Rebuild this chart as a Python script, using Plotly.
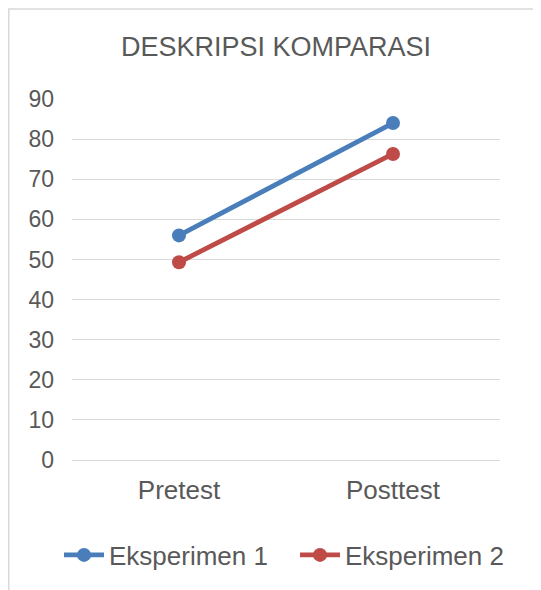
import plotly.graph_objects as go

categories = ["Pretest", "Posttest"]
series_names = ["Eksperimen 1", "Eksperimen 2"]
eksperimen_1 = [56.0, 84.0]
eksperimen_2 = [49.3, 76.3]
y_ticks = [0, 10, 20, 30, 40, 50, 60, 70, 80, 90]

colors = ["#4A7EBB", "#BE4B48"]
text_color = "#595959"
grid_color = "#D9D9D9"
font_family = "Liberation Sans, Arial, sans-serif"

fig = go.Figure()
for name, vals, c in zip(series_names, [eksperimen_1, eksperimen_2], colors):
    fig.add_trace(go.Scatter(
        x=categories, y=vals, name=name, mode="lines+markers",
        line=dict(color=c, width=4.8),
        marker=dict(color=c, size=14),
    ))

# page body has an 8px margin; figure drawn at (8, 8)
W, H = 533, 582
L, R, T, B = 64, 41, 91, 130
pw, ph = W - L - R, H - T - B

fig.update_layout(
    width=W, height=H,
    margin=dict(l=L, r=R, t=T, b=B),
    paper_bgcolor="white", plot_bgcolor="white",
    font=dict(family=font_family, color=text_color, size=26),
    title=dict(text="DESKRIPSI KOMPARASI", x=268 / W, xanchor="center",
               y=1 - 39 / H, yanchor="middle", yref="container",
               font=dict(size=27, color=text_color, family=font_family)),
    showlegend=True,
    legend=dict(orientation="h", x=(51 - L) / pw, xanchor="left",
                y=-(547 - (T + ph)) / ph, yanchor="middle",
                font=dict(size=26, color=text_color), itemwidth=40,
                entrywidth=181, tracegroupgap=0),
    xaxis=dict(type="category", range=[-0.5, 1.5], showgrid=False,
               showline=False, zeroline=False, ticks="",
               ticklabelstandoff=12, tickfont=dict(size=26)),
    yaxis=dict(range=[0, 90], tickvals=y_ticks, showgrid=True,
               gridcolor=grid_color, gridwidth=1, zeroline=True,
               zerolinecolor=grid_color, zerolinewidth=1, showline=False,
               ticks="", ticklabelstandoff=17, tickfont=dict(size=23)),
    shapes=[dict(type="rect", xref="paper", yref="paper",
                 x0=(0.75 - L) / pw, x1=1.5, y0=-1.0, y1=(T + ph - 1) / ph,
                 line=dict(color=grid_color, width=1.5), layer="below")],
)

fig.write_html("out.html")
